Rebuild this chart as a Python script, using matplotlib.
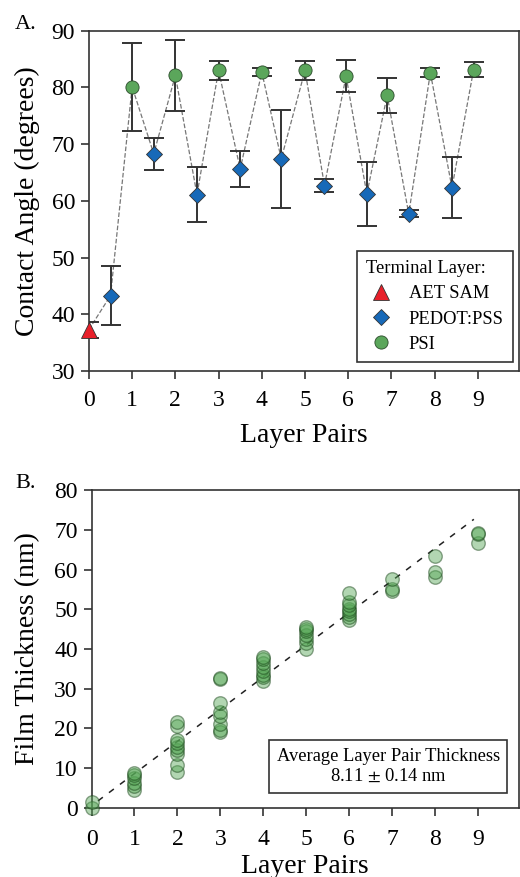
import matplotlib.pyplot as plt
import numpy as np

plt.rcParams['font.family'] = 'serif'
plt.rcParams['font.serif'] = ['Liberation Serif', 'DejaVu Serif']
plt.rcParams['mathtext.fontset'] = 'stix'

# Panel A: contact angle vs layer pairs
ca_x = [0, 0.5, 1, 1.5, 2, 2.5, 3, 3.5, 4, 4.45, 5, 5.45, 5.95, 6.43, 6.9, 7.4, 7.9, 8.4, 8.9]
ca_y = [37.3, 43.3, 80.1, 68.3, 82.1, 61.1, 83.0, 65.6, 82.7, 67.4, 83.0, 62.7, 82.0, 61.2, 78.6, 57.7, 82.6, 62.3, 83.1]
ca_err = [1.4, 5.2, 7.8, 2.8, 6.2, 4.8, 1.7, 3.2, 0.7, 8.7, 1.7, 1.2, 2.8, 5.6, 3.1, 0.6, 0.8, 5.4, 1.3]
ca_layer = ['AET', 'PEDOT', 'PSI', 'PEDOT', 'PSI', 'PEDOT', 'PSI', 'PEDOT', 'PSI', 'PEDOT',
            'PSI', 'PEDOT', 'PSI', 'PEDOT', 'PSI', 'PEDOT', 'PSI', 'PEDOT', 'PSI']

# Panel B: film thickness for each layer pair count
thick = {
    0: [0.0, 1.5],
    1: [4.5, 5.5, 6.3, 7.5, 8.2, 8.8],
    2: [9.0, 10.8, 13.5, 14.5, 15.2, 16.3, 17.0, 20.6, 21.6],
    3: [19.0, 19.6, 21.0, 23.0, 24.0, 26.5, 32.5, 32.8],
    4: [32.0, 33.0, 33.5, 34.5, 35.5, 36.5, 37.5, 38.0],
    5: [40.0, 41.5, 42.5, 43.5, 44.5, 45.0, 45.6],
    6: [47.2, 48.0, 48.8, 49.5, 50.2, 51.0, 51.8, 54.0],
    7: [54.7, 55.0, 57.6],
    8: [58.2, 59.3, 63.4],
    9: [66.8, 69.0, 69.3],
}
fit_slope = 8.11
fit_err = 0.14
fit_icpt = 0.5
fit_range = [0.15, 8.9]

fig = plt.figure(figsize=(5.2, 8.77), dpi=100)

styles = {
    'AET': dict(marker='^', color='#e8202a', ms=11, label='AET SAM'),
    'PEDOT': dict(marker='D', color='#1769b8', ms=8.5, label='PEDOT:PSS'),
    'PSI': dict(marker='o', color='#5ba65b', ms=9.5, label='PSI'),
}

# ---------------- Panel A ----------------
axA = fig.add_axes([0.171, 0.577, 0.827, 0.388])
axA.plot(ca_x, ca_y, linestyle='--', color='#777777', linewidth=0.9, zorder=1)
axA.errorbar(ca_x, ca_y, yerr=ca_err, fmt='none', ecolor='#333333', elinewidth=1.4,
             capsize=7, capthick=1.4, zorder=2)
for key in ['AET', 'PEDOT', 'PSI']:
    xs = [x for x, l in zip(ca_x, ca_layer) if l == key]
    ys = [y for y, l in zip(ca_y, ca_layer) if l == key]
    st = styles[key]
    axA.plot(xs, ys, linestyle='none', marker=st['marker'], markersize=st['ms'],
             markerfacecolor=st['color'], markeredgecolor='#2a4a2a' if key == 'PSI' else '#333333',
             markeredgewidth=0.6, label=st['label'], zorder=3, clip_on=False)

axA.set_xlim(0, 9.95)
axA.set_ylim(30, 90)
axA.set_xticks(range(10))
axA.set_yticks(range(30, 91, 10))
axA.tick_params(direction='out', length=6, width=1.2, labelsize=17, color='#333333')
axA.tick_params(axis='x', pad=8)
axA.tick_params(axis='y', pad=4)
axA.set_xlabel('Layer Pairs', fontsize=20, labelpad=8)
axA.set_ylabel('Contact Angle (degrees)', fontsize=20, labelpad=8)
for sp in axA.spines.values():
    sp.set_linewidth(1.2)
    sp.set_color('#333333')
legA = axA.legend(loc='lower right', title='Terminal Layer:', fontsize=13.3, title_fontsize=13.3,
                  frameon=True, fancybox=False, edgecolor='#333333', framealpha=1,
                  borderpad=0.5, labelspacing=0.45, handletextpad=0.7, handlelength=1.6,
                  borderaxespad=0, bbox_to_anchor=(0.986, 0.026))
legA.get_frame().set_linewidth(1.2)
legA._legend_box.align = 'left'
fig.text(0.029, 0.972, 'A.', fontsize=16, ha='left', va='center')

# ---------------- Panel B ----------------
axB = fig.add_axes([0.176, 0.079, 0.822, 0.362])
for x, vals in thick.items():
    axB.scatter([x] * len(vals), vals, s=95, facecolor=(0.33, 0.65, 0.33, 0.45),
                edgecolor=(0.08, 0.25, 0.08, 0.45), linewidth=1.0, zorder=3, clip_on=False)
fx = np.array(fit_range)
axB.plot(fx, fit_slope * fx + fit_icpt, linestyle=(0, (4, 5)), color='#222222',
         linewidth=1.1, zorder=2)

axB.set_xlim(0, 9.95)
axB.set_ylim(0, 80)
axB.set_xticks(range(10))
axB.set_yticks(range(0, 81, 10))
axB.tick_params(direction='out', length=6, width=1.2, labelsize=17, color='#333333')
axB.tick_params(axis='x', pad=9)
axB.tick_params(axis='y', pad=4)
axB.set_xlabel('Layer Pairs', fontsize=20, labelpad=3)
axB.set_ylabel('Film Thickness (nm)', fontsize=20, labelpad=10)
for sp in axB.spines.values():
    sp.set_linewidth(1.2)
    sp.set_color('#333333')
axB.text(0.694, 0.13,
         'Average Layer Pair Thickness\n%.2f $\\pm$ %.2f nm' % (fit_slope, fit_err),
         transform=axB.transAxes, ha='center', va='center', fontsize=13.3, linespacing=1.25,
         bbox=dict(boxstyle='square,pad=0.4', facecolor='white', edgecolor='#333333', linewidth=1.2))
fig.text(0.029, 0.449, 'B.', fontsize=16, ha='left', va='center')

plt.savefig('out.png', dpi=100)
